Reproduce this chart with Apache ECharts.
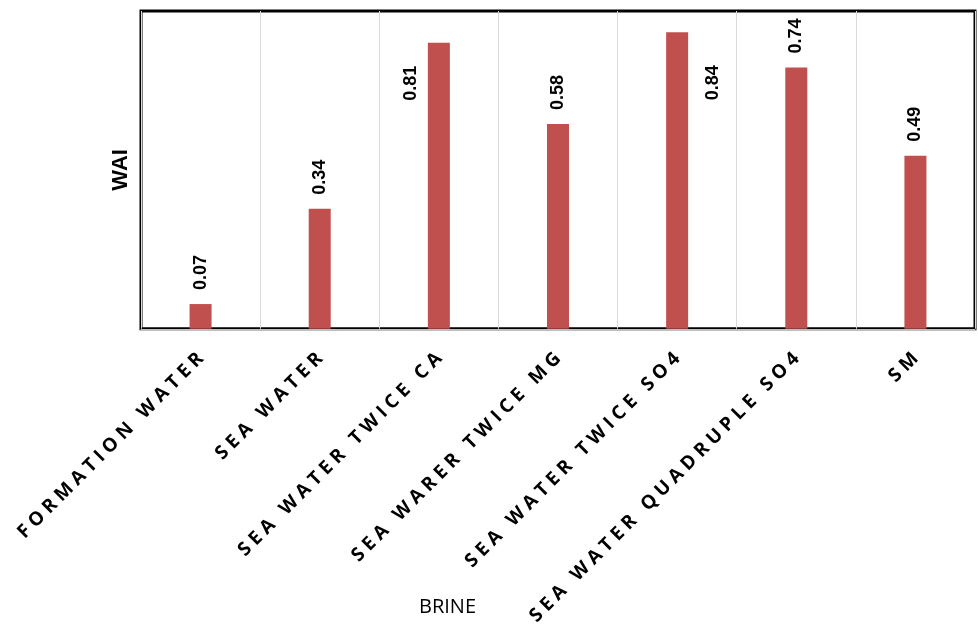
<!DOCTYPE html>
<html>
<head>
<meta charset="utf-8">
<script src="https://cdn.jsdelivr.net/npm/echarts@6/dist/echarts.min.js"></script>
<style>
  html, body { margin: 0; padding: 0; background: #fff; }
  #chart { width: 978px; height: 628px; }
</style>
</head>
<body>
<div id="chart"></div>
<script>
var brines = ['FORMATION WATER', 'SEA WATER', 'SEA WATER TWICE CA', 'SEA WARER TWICE MG',
              'SEA WATER TWICE SO4', 'SEA WATER QUADRUPLE SO4', 'SM'];
var wai = [0.07, 0.34, 0.81, 0.58, 0.84, 0.74, 0.49];

// two labels in the original sit beside their bars instead of on top
var labelOffsets = { 2: [-17, 58], 4: [47, 68] };

var chart = echarts.init(document.getElementById('chart'));

var barData = wai.map(function (v, i) {
    var item = { value: v };
    if (labelOffsets[i]) {
        item.label = { position: labelOffsets[i] };
    }
    return item;
});

var option = {
    animation: false,
    grid: {
        left: 141, right: 3, top: 11, bottom: 298,
        show: true, borderColor: '#000', borderWidth: 3
    },
    xAxis: {
        type: 'category',
        data: brines,
        axisLine: { show: true, lineStyle: { color: '#bfbfbf', width: 1 } },
        axisTick: { show: false },
        splitLine: { show: true, lineStyle: { color: '#d9d9d9', width: 1 } },
        axisLabel: {
            interval: 0,
            rotate: 45,
            margin: 27,
            color: '#000',
            fontFamily: 'Open Sans',
            fontWeight: 'bold',
            fontSize: 19,
            // spread the letters like the original
            formatter: function (s) { return s.split('').join('\u2005'); }
        }
    },
    yAxis: {
        type: 'value',
        min: 0, max: 0.9,
        name: 'WAI',
        nameLocation: 'middle',
        nameGap: 9,
        nameRotate: 90,
        nameTextStyle: { fontFamily: 'Liberation Sans', fontWeight: 'bold', fontSize: 22, color: '#000' },
        axisLine: { show: false },
        axisTick: { show: false },
        axisLabel: { show: false },
        splitLine: { show: false }
    },
    graphic: [{
        type: 'text',
        left: 419, top: 597,
        style: { text: 'BRINE', fontFamily: 'Open Sans', fontSize: 20, fill: '#000' }
    }],
    series: [{
        type: 'bar',
        data: barData,
        barWidth: 22,
        itemStyle: { color: '#C0504D' },
        label: {
            show: true,
            position: 'top',
            distance: 14,
            rotate: 90,
            align: 'left',
            verticalAlign: 'middle',
            color: '#000',
            fontFamily: 'Liberation Sans',
            fontWeight: 'bold',
            fontSize: 18,
            formatter: function (p) { return p.value.toFixed(2); }
        }
    }]
};

chart.setOption(option);
</script>
</body>
</html>
